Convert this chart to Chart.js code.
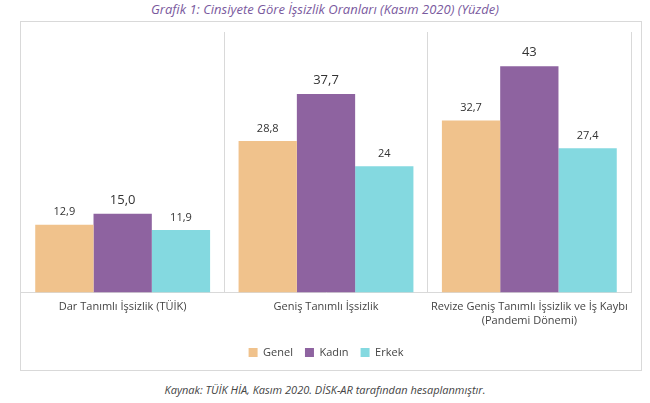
<!DOCTYPE html>
<html>
<head>
<meta charset="utf-8">
<script src="https://cdn.jsdelivr.net/npm/chart.js@4"></script>
<style>
  body { margin: 0; width: 650px; height: 403px; background: #fff; font-family: "Open Sans", sans-serif; position: relative; overflow: hidden; }
  #title { position: absolute; top: 0; left: 0; width: 650px; text-align: center; font-style: italic; font-size: 13px; color: #7a5a9e; }
  #box { position: absolute; left: 20px; top: 21px; width: 620px; height: 348px; border: 1px solid #d9d9d9; }
  #source { position: absolute; top: 382px; left: 0; width: 650px; text-align: center; font-style: italic; font-size: 11px; color: #444; }
</style>
</head>
<body>
<div id="title">Grafik 1: Cinsiyete Göre İşsizlik Oranları (Kasım 2020) (Yüzde)</div>
<div id="box"><canvas id="chart"></canvas></div>
<div id="source">Kaynak: TÜİK HİA, Kasım 2020. DİSK-AR tarafından hesaplanmıştır.</div>
<script>
// categories and series
const categories = [
    "Dar Tanımlı İşsizlik (TÜİK)",
    "Geniş Tanımlı İşsizlik",
    ["Revize Geniş Tanımlı İşsizlik ve İş Kaybı", "(Pandemi Dönemi)"],
];
const genel = [12.9, 28.8, 32.7];
const kadin = [15.0, 37.7, 43];
const erkek = [11.9, 24, 27.4];
const genelLabels = ["12,9", "28,8", "32,7"];
const kadinLabels = ["15,0", "37,7", "43"];
const erkekLabels = ["11,9", "24", "27,4"];

// Draw value labels above the bars
const valueLabels = {
    id: "valueLabels",
    afterDatasetsDraw(chart) {
        const ctx = chart.ctx;
        chart.data.datasets.forEach((ds, i) => {
            const meta = chart.getDatasetMeta(i);
            meta.data.forEach((bar, j) => {
                ctx.save();
                ctx.fillStyle = "#333";
                ctx.font = (i === 1 ? "13px" : "11px") + " 'Open Sans'";
                ctx.textAlign = "center";
                ctx.textBaseline = "bottom";
                ctx.fillText(ds.valueText[j], bar.x, bar.y - 7);
                ctx.restore();
            });
        });
    },
};

const canvas = document.getElementById("chart");
canvas.width = 620;
canvas.height = 348;

new Chart(canvas.getContext("2d"), {
    type: "bar",
    data: {
        labels: categories,
        datasets: [
            { label: "Genel", data: genel, valueText: genelLabels, backgroundColor: "#f0c28c" },
            { label: "Kadın", data: kadin, valueText: kadinLabels, backgroundColor: "#8e63a0" },
            { label: "Erkek", data: erkek, valueText: erkekLabels, backgroundColor: "#84d9e0" },
        ],
    },
    options: {
        responsive: false,
        animation: false,
        layout: { padding: { top: 10, left: 0, right: 10, bottom: 2 } },
        datasets: { bar: { categoryPercentage: 0.86, barPercentage: 1.0 } },
        scales: {
            x: {
                grid: { offset: true, color: "#d9d9d9", drawTicks: false },
                border: { color: "#d9d9d9" },
                ticks: { color: "#444", font: { family: "Open Sans", size: 11 }, padding: 8 },
            },
            y: {
                display: false,
                min: 0,
                max: 49.5,
            },
        },
        plugins: {
            legend: {
                position: "bottom",
                labels: { boxWidth: 9, boxHeight: 9, color: "#444", font: { family: "Open Sans", size: 11 }, padding: 12 },
            },
            tooltip: { enabled: false },
        },
    },
    plugins: [valueLabels],
});
</script>
</body>
</html>
